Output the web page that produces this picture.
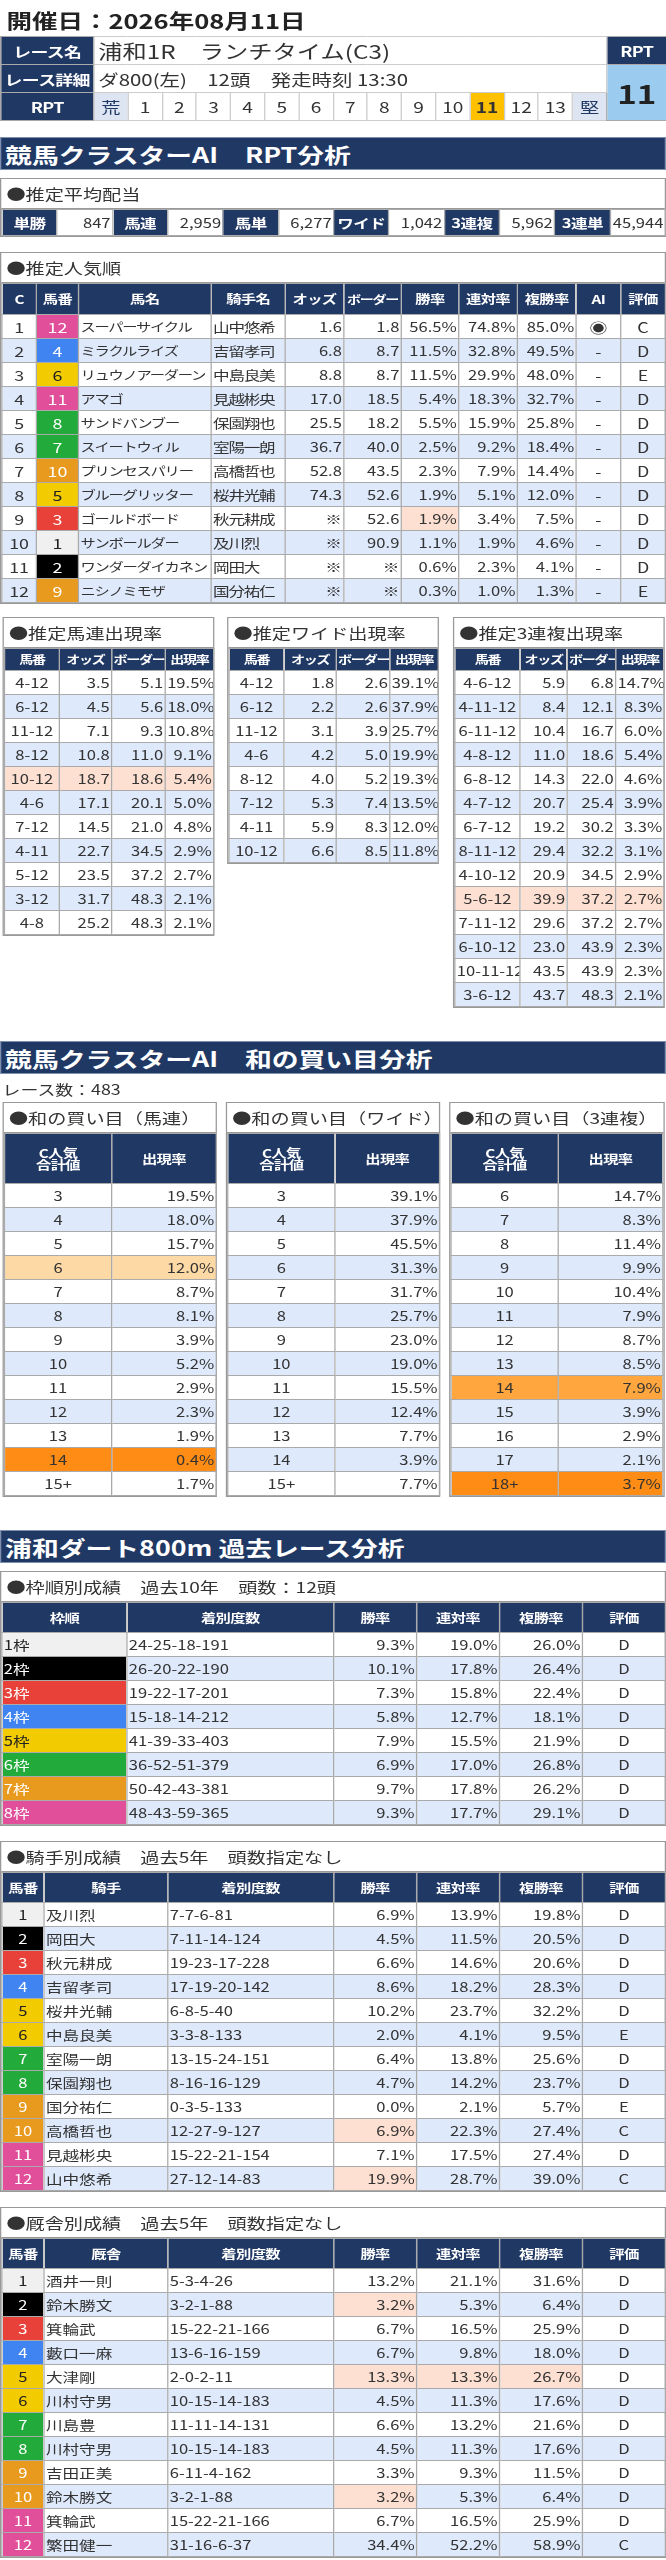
<!DOCTYPE html>
<html><head><meta charset="utf-8">
<script src="https://cdn.jsdelivr.net/npm/chart.js@4.4.0/dist/chart.umd.min.js"></script>
<style>
body{margin:0;background:#fff;font-family:"Noto Sans CJK JP","Noto Sans",sans-serif;color:#333;overflow:hidden;}
#page{position:relative;width:522px;height:2560px;transform:scaleX(1.2759);transform-origin:0 0;}
.abs{position:absolute;}
table{border-collapse:collapse;table-layout:fixed;}
td,th{border:1px solid #aaa;padding:0 1px;font-size:14px;white-space:nowrap;overflow:hidden;line-height:1;}
th{background:#203864;color:#fff;font-weight:bold;font-size:12px;letter-spacing:-0.5px;text-align:center;border-color:#aaa;}
.box{border:1px solid #999;box-sizing:border-box;}
.btitle{height:29px;line-height:29px;font-size:15px;padding-left:4px;border-bottom:1px solid #999;}
.bar{background:#203864;color:#fff;font-weight:bold;font-size:21px;height:33px;line-height:33px;padding-left:3px;width:522px;box-sizing:border-box;border:1px solid #7f8fb0;}
tr.alt td{background:#dee9fb;}
.r{text-align:right}.c{text-align:center}.l{text-align:left}
td.hl{background:#fde0d2 !important}
td.o1{background:#fdd9a5 !important}td.o2{background:#ff8c14 !important}td.o3{background:#ffa63e !important}
</style></head><body>
<div id="page"></div>
<script>
// ---- データ ----
const raceDate = '開催日：2026年08月11日';
const raceName = '浦和1R　ランチタイム(C3)';
const raceDetail = 'ダ800(左)　12頭　発走時刻 13:30';
const rptScale = ['荒','1','2','3','4','5','6','7','8','9','10','11','12','13','堅'];
const rptValue = 11;
const payoutLabels = ['単勝','馬連','馬単','ワイド','3連複','3連単'];
const payoutValues = ['847','2,959','6,277','1,042','5,962','45,944'];

const popC = [1,2,3,4,5,6,7,8,9,10,11,12];
const popUma = [12,4,6,11,8,7,10,5,3,1,2,9];
const popName = ['スーパーサイクル','ミラクルライズ','リュウノアーダーン','アマゴ','サンドバンブー','スイートウィル','プリンセスパリー','ブルーグリッター','ゴールドボード','サンボールダー','ワンダーダイカネン','ニシノミモザ'];
const popJockey = ['山中悠希','吉留孝司','中島良美','見越彬央','保園翔也','室陽一朗','高橋哲也','桜井光輔','秋元耕成','及川烈','岡田大','国分祐仁'];
const popOdds = ['1.6','6.8','8.8','17.0','25.5','36.7','52.8','74.3','※','※','※','※'];
const popBorder = ['1.8','8.7','8.7','18.5','18.2','40.0','43.5','52.6','52.6','90.9','※','※'];
const popWin = ['56.5%','11.5%','11.5%','5.4%','5.5%','2.5%','2.3%','1.9%','1.9%','1.1%','0.6%','0.3%'];
const popRen = ['74.8%','32.8%','29.9%','18.3%','15.9%','9.2%','7.9%','5.1%','3.4%','1.9%','2.3%','1.0%'];
const popFuku = ['85.0%','49.5%','48.0%','32.7%','25.8%','18.4%','14.4%','12.0%','7.5%','4.6%','4.1%','1.3%'];
const popAI = ['◉','-','-','-','-','-','-','-','-','-','-','-'];
const popEval = ['C','D','E','D','D','D','D','D','D','D','D','E'];

const umarenKumi = ['4-12','6-12','11-12','8-12','10-12','4-6','7-12','4-11','5-12','3-12','4-8'];
const umarenOdds = ['3.5','4.5','7.1','10.8','18.7','17.1','14.5','22.7','23.5','31.7','25.2'];
const umarenBorder = ['5.1','5.6','9.3','11.0','18.6','20.1','21.0','34.5','37.2','48.3','48.3'];
const umarenRate = ['19.5%','18.0%','10.8%','9.1%','5.4%','5.0%','4.8%','2.9%','2.7%','2.1%','2.1%'];
const wideKumi = ['4-12','6-12','11-12','4-6','8-12','7-12','4-11','10-12'];
const wideOdds = ['1.8','2.2','3.1','4.2','4.0','5.3','5.9','6.6'];
const wideBorder = ['2.6','2.6','3.9','5.0','5.2','7.4','8.3','8.5'];
const wideRate = ['39.1%','37.9%','25.7%','19.9%','19.3%','13.5%','12.0%','11.8%'];
const sanKumi = ['4-6-12','4-11-12','6-11-12','4-8-12','6-8-12','4-7-12','6-7-12','8-11-12','4-10-12','5-6-12','7-11-12','6-10-12','10-11-12','3-6-12'];
const sanOdds = ['5.9','8.4','10.4','11.0','14.3','20.7','19.2','29.4','20.9','39.9','29.6','23.0','43.5','43.7'];
const sanBorder = ['6.8','12.1','16.7','18.6','22.0','25.4','30.2','32.2','34.5','37.2','37.2','43.9','43.9','48.3'];
const sanRate = ['14.7%','8.3%','6.0%','5.4%','4.6%','3.9%','3.3%','3.1%','2.9%','2.7%','2.7%','2.3%','2.3%','2.1%'];

const raceCount = 483;
const waUmarenSum = ['3','4','5','6','7','8','9','10','11','12','13','14','15+'];
const waUmarenRate = ['19.5%','18.0%','15.7%','12.0%','8.7%','8.1%','3.9%','5.2%','2.9%','2.3%','1.9%','0.4%','1.7%'];
const waWideSum = ['3','4','5','6','7','8','9','10','11','12','13','14','15+'];
const waWideRate = ['39.1%','37.9%','45.5%','31.3%','31.7%','25.7%','23.0%','19.0%','15.5%','12.4%','7.7%','3.9%','7.7%'];
const waSanSum = ['6','7','8','9','10','11','12','13','14','15','16','17','18+'];
const waSanRate = ['14.7%','8.3%','11.4%','9.9%','10.4%','7.9%','8.7%','8.5%','7.9%','3.9%','2.9%','2.1%','3.7%'];

const wakuLabel = ['1枠','2枠','3枠','4枠','5枠','6枠','7枠','8枠'];
const wakuRecord = ['24-25-18-191','26-20-22-190','19-22-17-201','15-18-14-212','41-39-33-403','36-52-51-379','50-42-43-381','48-43-59-365'];
const wakuWin = ['9.3%','10.1%','7.3%','5.8%','7.9%','6.9%','9.7%','9.3%'];
const wakuRen = ['19.0%','17.8%','15.8%','12.7%','15.5%','17.0%','17.8%','17.7%'];
const wakuFuku = ['26.0%','26.4%','22.4%','18.1%','21.9%','26.8%','26.2%','29.1%'];
const wakuEval = ['D','D','D','D','D','D','D','D'];

const jkName = ['及川烈','岡田大','秋元耕成','吉留孝司','桜井光輔','中島良美','室陽一朗','保園翔也','国分祐仁','高橋哲也','見越彬央','山中悠希'];
const jkRecord = ['7-7-6-81','7-11-14-124','19-23-17-228','17-19-20-142','6-8-5-40','3-3-8-133','13-15-24-151','8-16-16-129','0-3-5-133','12-27-9-127','15-22-21-154','27-12-14-83'];
const jkWin = ['6.9%','4.5%','6.6%','8.6%','10.2%','2.0%','6.4%','4.7%','0.0%','6.9%','7.1%','19.9%'];
const jkRen = ['13.9%','11.5%','14.6%','18.2%','23.7%','4.1%','13.8%','14.2%','2.1%','22.3%','17.5%','28.7%'];
const jkFuku = ['19.8%','20.5%','20.6%','28.3%','32.2%','9.5%','25.6%','23.7%','5.7%','27.4%','27.4%','39.0%'];
const jkEval = ['D','D','D','D','D','E','D','D','E','C','D','C'];

const stName = ['酒井一則','鈴木勝文','箕輪武','藪口一麻','大津剛','川村守男','川島豊','川村守男','吉田正美','鈴木勝文','箕輪武','繁田健一'];
const stRecord = ['5-3-4-26','3-2-1-88','15-22-21-166','13-6-16-159','2-0-2-11','10-15-14-183','11-11-14-131','10-15-14-183','6-11-4-162','3-2-1-88','15-22-21-166','31-16-6-37'];
const stWin = ['13.2%','3.2%','6.7%','6.7%','13.3%','4.5%','6.6%','4.5%','3.3%','3.2%','6.7%','34.4%'];
const stRen = ['21.1%','5.3%','16.5%','9.8%','13.3%','11.3%','13.2%','11.3%','9.3%','5.3%','16.5%','52.2%'];
const stFuku = ['31.6%','6.4%','25.9%','18.0%','26.7%','17.6%','21.6%','17.6%','11.5%','6.4%','25.9%','58.9%'];
const stEval = ['D','D','D','D','D','D','D','D','D','D','D','C'];

// ---- 描画 ----
const page = document.getElementById('page');
const wakuBg = ['#f0f0f0','#000','#e8413a','#3f84f0','#f2cc00','#22aa3a','#e89a1e','#e14e9a'];
const wakuFg = ['#222','#fff','#fff','#fff','#222','#fff','#fff','#fff'];
function umaWaku(n){ return [0,0,1,2,3,4,4,5,5,6,6,7,7][n]; }

function place(html, x, y, w){
  const d = document.createElement('div');
  d.className = 'abs';
  d.style.left = x + 'px'; d.style.top = y + 'px';
  if (w) d.style.width = w + 'px';
  d.innerHTML = html;
  page.appendChild(d);
  return d;
}
// cols: [{w, a, h}] ; rows: array of arrays
function table(cols, headH, rowH, rows, cellFn){
  let h = '<table style="width:' + cols.reduce((s,c)=>s+c.w,0) + 'px"><colgroup>';
  cols.forEach(c => h += '<col style="width:' + c.w + 'px">');
  h += '</colgroup><tr style="height:' + headH + 'px">';
  cols.forEach(c => h += '<th>' + c.h + '</th>');
  h += '</tr>';
  rows.forEach((r, i) => {
    h += '<tr class="' + (i % 2 ? 'alt' : '') + '" style="height:' + rowH + 'px">';
    r.forEach((v, j) => {
      const extra = cellFn ? cellFn(i, j) : {};
      h += '<td class="' + cols[j].a + ' ' + (extra.cls || '') + '" style="' + (extra.st || '') + '">' + v + '</td>';
    });
    h += '</tr>';
  });
  return h + '</table>';
}
function box(title, x, y, w, inner){
  place('<div class="box" style="width:' + w + 'px"><div class="btitle">' + title + '</div>' + inner + '</div>', x, y);
}
const zip = (...a) => a[0].map((_, i) => a.map(x => x[i]));

// 見出し
place('<div style="font-size:20px;font-weight:bold;color:#222">' + raceDate + '</div>', 5, 6);
let rh = '<table style="width:522px;border:1px solid #666"><colgroup><col style="width:73px">';
rptScale.forEach(() => rh += '<col style="width:26.8px">');
rh += '<col style="width:47px"></colgroup>';
rh += '<tr style="height:28px"><th style="font-size:14px">レース名</th><td colspan="15" style="font-size:19px;border-color:#ccc;padding-left:3px">' + raceName + '</td><th style="font-size:14px">RPT</th></tr>';
rh += '<tr style="height:28px"><th style="font-size:14px">レース詳細</th><td colspan="15" style="font-size:16px;border-color:#ccc;padding-left:3px">' + raceDetail + '</td><td rowspan="2" class="c" style="background:#9ccbf0;font-size:26px;font-weight:bold;color:#222">' + rptValue + '</td></tr>';
rh += '<tr style="height:28px"><th style="font-size:14px">RPT</th>';
rptScale.forEach(s => {
  const bg = s === String(rptValue) ? '#ffc000' : (s === '荒' || s === '堅' ? '#dde4f2' : '#fff');
  const fw = s === String(rptValue) ? 'bold' : 'normal';
  const col = (s === '荒' || s === '堅') ? '#203864' : '#333';
  rh += '<td class="c" style="padding:0;font-size:15px;border-color:#ccc;background:' + bg + ';font-weight:' + fw + ';color:' + col + '">' + s + '</td>';
});
rh += '</tr></table>';
place(rh, 0, 36);

place('<div class="bar">競馬クラスターAI　RPT分析</div>', 0, 137);

let ph = '<table style="width:521px"><tr style="height:26px">';
payoutLabels.forEach((l, i) => ph += '<th style="font-size:13px">' + l + '</th><td class="r" style="font-size:13px">' + payoutValues[i] + '</td>');
ph += '</tr></table>';
box('●推定平均配当', 0, 178, 522, ph);

// 推定人気順
const popRows = zip(popC, popUma, popName, popJockey, popOdds, popBorder, popWin, popRen, popFuku, popAI, popEval);
box('●推定人気順', 0, 252, 522, table([
  {w:27,a:'c',h:'C'},{w:33,a:'c',h:'馬番'},{w:104,a:'l',h:'馬名'},{w:58,a:'l',h:'騎手名'},
  {w:46,a:'r',h:'オッズ'},{w:45,a:'r',h:'ボーダー'},{w:45,a:'r',h:'勝率'},{w:46,a:'r',h:'連対率'},
  {w:46,a:'r',h:'複勝率'},{w:35,a:'c',h:'AI'},{w:35,a:'c',h:'評価'}], 31, 24, popRows, (i, j) => {
    if (j === 1) { const w = umaWaku(popUma[i]); return {st:'background:' + wakuBg[w] + ';color:' + wakuFg[w]}; }
    if (j === 2) return {st:'font-size:12px;letter-spacing:-1px'};
    if (j === 3) return {st:'font-size:13px;letter-spacing:-1px'};
    if (j >= 4 && j <= 8) return {cls: (j === 6 && i === 8) ? 'hl' : '', st:'font-size:13px'};
    return {};
  }).replace(/<th>ボーダー<\/th>/, '<th style="font-size:11px;letter-spacing:-1px">ボーダー</th>'));

// 推定出現率
const smallCols = (w) => [{w:w[0],a:'c',h:'馬番'},{w:w[1],a:'r',h:'オッズ'},{w:w[2],a:'r',h:'ボーダー'},{w:w[3],a:'r',h:'出現率'}];
const smallFn = (hlRow) => (i, j) => ({cls: i === hlRow ? 'hl' : '', st:'font-size:13px'});
const fixHead = s => s.replace(/<th>/g, '<th style="font-size:11px;letter-spacing:-1px">');
box('●推定馬連出現率', 2, 617, 166, fixHead(table(smallCols([43,41,42,38]), 22, 24, zip(umarenKumi, umarenOdds, umarenBorder, umarenRate), smallFn(4))));
box('●推定ワイド出現率', 178, 617, 166, fixHead(table(smallCols([43,41,42,38]), 22, 24, zip(wideKumi, wideOdds, wideBorder, wideRate), smallFn(-1))));
box('●推定3連複出現率', 355, 617, 166, fixHead(table(smallCols([51,37,38,38]), 22, 24, zip(sanKumi, sanOdds, sanBorder, sanRate), smallFn(9))));

// 和の買い目
place('<div class="bar">競馬クラスターAI　和の買い目分析</div>', 0, 1041);
place('<div style="font-size:14px">レース数：' + raceCount + '</div>', 2, 1079);
const waCols = [{w:84,a:'c',h:'C人気<br>合計値'},{w:82,a:'r',h:'出現率'}];
const waFn = (o1, o2, o3) => (i) => ({cls: i === o1 ? 'o1' : i === o2 ? 'o2' : i === o3 ? 'o3' : '', st:'font-size:13px'});
box('●和の買い目（馬連）', 2, 1102, 168, table(waCols, 50, 24, zip(waUmarenSum, waUmarenRate), waFn(3, 11, -1)));
box('●和の買い目（ワイド）', 177, 1102, 168, table(waCols, 50, 24, zip(waWideSum, waWideRate), waFn(-1, -1, -1)));
box('●和の買い目（3連複）', 352, 1102, 169, table(waCols, 50, 24, zip(waSanSum, waSanRate), waFn(-1, 12, 8)));

// 過去レース分析
place('<div class="bar">浦和ダート800m 過去レース分析</div>', 0, 1530);
box('●枠順別成績　過去10年　頭数：12頭', 0, 1571, 522, table([
  {w:98,a:'l',h:'枠順'},{w:162,a:'l',h:'着別度数'},{w:65,a:'r',h:'勝率'},{w:65,a:'r',h:'連対率'},{w:65,a:'r',h:'複勝率'},{w:65,a:'c',h:'評価'}],
  30, 24, zip(wakuLabel, wakuRecord, wakuWin, wakuRen, wakuFuku, wakuEval),
  (i, j) => j === 0 ? {st:'font-size:13px;background:' + wakuBg[i] + ';color:' + wakuFg[i]} : {st:'font-size:13px'}));

const recCols = (name) => [{w:33,a:'c',h:'馬番'},{w:97,a:'l',h:name},{w:130,a:'l',h:'着別度数'},{w:65,a:'r',h:'勝率'},{w:65,a:'r',h:'連対率'},{w:65,a:'r',h:'複勝率'},{w:65,a:'c',h:'評価'}];
const recFn = (hl) => (i, j) => {
  if (j === 0) { const w = umaWaku(i + 1); return {st:'font-size:13px;background:' + wakuBg[w] + ';color:' + wakuFg[w]}; }
  return {cls: hl.includes(i + '-' + j) ? 'hl' : '', st:'font-size:13px'};
};
box('●騎手別成績　過去5年　頭数指定なし', 0, 1841, 522, table(recCols('騎手'), 30, 24,
  zip(popC, jkName, jkRecord, jkWin, jkRen, jkFuku, jkEval), recFn(['9-3', '11-3'])));
box('●厩舎別成績　過去5年　頭数指定なし', 0, 2207, 522, table(recCols('厩舎'), 30, 24,
  zip(popC, stName, stRecord, stWin, stRen, stFuku, stEval), recFn(['1-3', '4-3', '4-4', '4-5', '9-3'])));
</script>
</body></html>
